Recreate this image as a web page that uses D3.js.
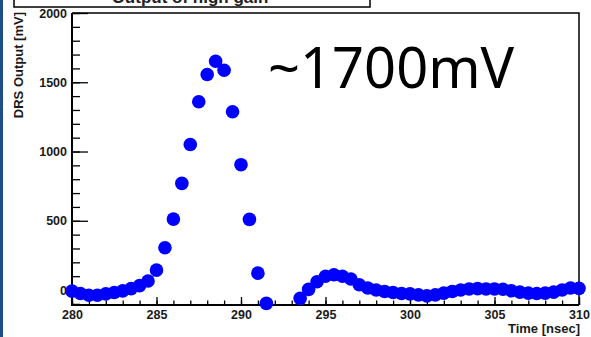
<!DOCTYPE html>
<html>
<head>
<meta charset="utf-8">
<script src="https://cdn.jsdelivr.net/npm/d3@7"></script>
<style>
  body { margin: 0; background: #fff; }
  svg { display: block; }
</style>
</head>
<body>
<script>
// waveform samples (0.5 ns steps)
var times = [280, 280.5, 281, 281.5, 282, 282.5, 283, 283.5, 284, 284.5,
    285, 285.5, 286, 286.5, 287, 287.5, 288, 288.5, 289, 289.5,
    290, 290.5, 291, 291.5, 292, 292.5, 293, 293.5, 294, 294.5,
    295, 295.5, 296, 296.5, 297, 297.5, 298, 298.5, 299, 299.5,
    300, 300.5, 301, 301.5, 302, 302.5, 303, 303.5, 304, 304.5,
    305, 305.5, 306, 306.5, 307, 307.5, 308, 308.5, 309, 309.5, 310];
var millivolts = [-8, -25, -38, -38, -28, -18, -6, 10, 32, 65,
    144, 305, 512, 770, 1051, 1359, 1556, 1652, 1587, 1287,
    905, 510, 122, -96, -250, -280, -180, -60, 5, 60,
    100, 110, 100, 80, 38, 15, 0, -10, -18, -25,
    -28, -35, -42, -35, -22, -10, 0, 8, 10, 8,
    8, 6, -5, -15, -22, -25, -22, -15, 0, 15, 12];

var xMajorTicks = [280, 285, 290, 295, 300, 305, 310];
var yMajorTicks = [0, 500, 1000, 1500, 2000];
var yTitle = "DRS Output [mV]";
var xTitle = "Time [nsec]";
var plotTitle = "Output of high gain";
var note = "~1700mV";

var width = 591, height = 337;
var plotLeft = 72, plotRight = 579, plotTop = 13, plotBottom = 305;
var markerColor = "#0000ff";
var textColor = "#1a1a1a";

var svg = d3.select("body").append("svg")
    .attr("width", width)
    .attr("height", height);

var x = d3.scaleLinear().domain([280, 310]).range([plotLeft, plotRight]);
var y = d3.scaleLinear().domain([-108, 2000]).range([plotBottom, plotTop]);

// dark blue strip on the left edge
svg.append("rect")
    .attr("x", 0).attr("y", 0)
    .attr("width", 3).attr("height", height)
    .attr("fill", "#1d4e86");

// minor + major x ticks
svg.append("g")
    .attr("transform", "translate(0," + plotBottom + ")")
    .call(d3.axisBottom(x).tickValues(d3.range(280, 311, 1)).tickSize(-4.5).tickFormat(""))
    .call(function (g) { g.select(".domain").remove(); });

var xAxis = svg.append("g")
    .attr("transform", "translate(0," + plotBottom + ")")
    .call(d3.axisBottom(x).tickValues(xMajorTicks).tickSize(-8).tickPadding(5).tickFormat(d3.format("d")));
xAxis.select(".domain").remove();

// minor + major y ticks
svg.append("g")
    .attr("transform", "translate(" + plotLeft + ",0)")
    .call(d3.axisLeft(y).tickValues(d3.range(-100, 2001, 100)).tickSize(-8).tickFormat(""))
    .call(function (g) { g.select(".domain").remove(); });

var yAxis = svg.append("g")
    .attr("transform", "translate(" + plotLeft + ",0)")
    .call(d3.axisLeft(y).tickValues(yMajorTicks).tickSize(-16).tickPadding(5).tickFormat(d3.format("d")));
yAxis.select(".domain").remove();

svg.selectAll(".tick line").attr("stroke", "#000").attr("stroke-width", 1.3);
svg.selectAll(".tick text")
    .style("font-family", "Liberation Sans, Arial, sans-serif")
    .style("font-weight", "bold")
    .style("font-size", "12.5px")
    .attr("fill", textColor);

// frame
svg.append("path")
    .attr("d", "M" + plotLeft + "," + plotTop + "H" + plotRight + "V" + plotBottom)
    .attr("fill", "none").attr("stroke", "#000").attr("stroke-width", 1.5);
svg.append("path")
    .attr("d", "M" + plotLeft + "," + plotTop + "V" + plotBottom + "H" + plotRight)
    .attr("fill", "none").attr("stroke", "#000").attr("stroke-width", 2);

// markers (points below the frame are not drawn, like ROOT)
var points = times.map(function (t, i) { return {t: t, v: millivolts[i]}; })
    .filter(function (d) { return d.v >= y.domain()[0] && d.v <= y.domain()[1]; });

svg.append("g")
    .selectAll("circle")
    .data(points)
    .enter().append("circle")
    .attr("cx", function (d) { return x(d.t); })
    .attr("cy", function (d) { return y(d.v); })
    .attr("r", 6.8)
    .attr("fill", markerColor);

// axis titles
svg.append("text")
    .attr("transform", "translate(22.5," + (plotTop - 1) + ") rotate(-90)")
    .attr("text-anchor", "end")
    .style("font-family", "Liberation Sans, Arial, sans-serif")
    .style("font-weight", "bold")
    .style("font-size", "13px")
    .attr("fill", textColor)
    .text(yTitle);

svg.append("text")
    .attr("x", plotRight + 1)
    .attr("y", 333)
    .attr("text-anchor", "end")
    .style("font-family", "Liberation Sans, Arial, sans-serif")
    .style("font-weight", "bold")
    .style("font-size", "13px")
    .attr("fill", textColor)
    .text(xTitle);

// title box, mostly cut off at the top
svg.append("rect")
    .attr("x", 14).attr("y", -12)
    .attr("width", 356).attr("height", 19)
    .attr("fill", "#fff").attr("stroke", "#000").attr("stroke-width", 1.5);
svg.append("text")
    .attr("x", 190).attr("y", 3)
    .attr("text-anchor", "middle")
    .style("font-family", "Liberation Sans, Arial, sans-serif")
    .style("font-weight", "bold")
    .style("font-size", "17px")
    .attr("fill", "#222")
    .text(plotTitle);

// big annotation
svg.append("text")
    .attr("x", 268)
    .attr("y", 88)
    .style("font-family", "Noto Sans, sans-serif")
    .style("font-size", "56px")
    .attr("fill", "#000")
    .text(note);
</script>
</body>
</html>
